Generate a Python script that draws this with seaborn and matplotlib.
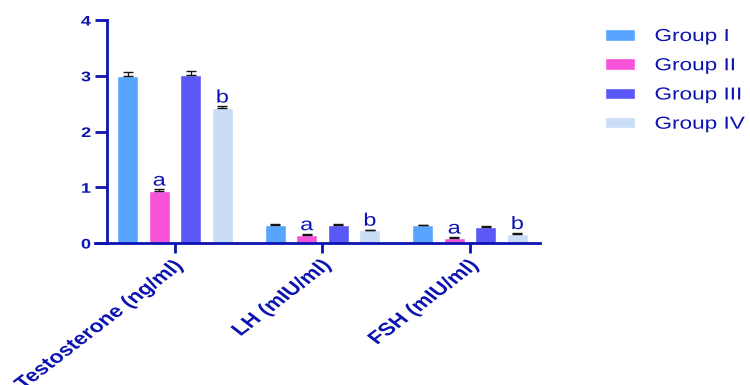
import matplotlib
matplotlib.use("Agg")
import matplotlib.pyplot as plt
from matplotlib.container import BarContainer
from matplotlib.patheffects import AbstractPathEffect
from matplotlib.transforms import Affine2D
import seaborn as sns
import pandas as pd

# Hormone means and SEM per group
hormones = ["Testosterone (ng/ml)", "LH (mIU/ml)", "FSH (mIU/ml)"]
groups = ["Group I", "Group II", "Group III", "Group IV"]
means_g1 = [3.00, 0.325, 0.32]
means_g2 = [0.93, 0.15, 0.09]
means_g3 = [3.02, 0.325, 0.29]
means_g4 = [2.42, 0.23, 0.17]
sem_g1 = [0.06, 0.01, 0.01]
sem_g2 = [0.03, 0.01, 0.01]
sem_g3 = [0.07, 0.01, 0.01]
sem_g4 = [0.03, 0.01, 0.01]
sig_letters = ["", "a", "", "b"]
y_ticks = [0, 1, 2, 3, 4]

palette = ["#58A4FF", "#F653D9", "#5A58F6", "#C9DDF6"]
navy = "#0B14B0"
STRETCH = 1.3


class WideText(AbstractPathEffect):
    """Widen glyphs horizontally around a chosen point of the string."""

    def __init__(self, sx=STRETCH, anchor="left"):
        super().__init__()
        self.sx = sx
        self.anchor = anchor

    def draw_path(self, renderer, gc, tpath, affine, rgbFace=None):
        v = tpath.vertices
        if len(v):
            xmin, xmax = v[:, 0].min(), v[:, 0].max()
        else:
            xmin = xmax = 0.0
        px = {"left": 0.0, "right": xmax, "center": (xmin + xmax) / 2}[self.anchor]
        ox, oy = affine.transform((px, 0.0))
        wide = affine + Affine2D().translate(-ox, -oy).scale(self.sx, 1.0).translate(ox, oy)
        renderer.draw_path(gc, tpath, wide, rgbFace)


means = [means_g1, means_g2, means_g3, means_g4]
sems = [sem_g1, sem_g2, sem_g3, sem_g4]
rows = []
for g, m, s in zip(groups, means, sems):
    for h, mv, sv in zip(hormones, m, s):
        rows.append({"Hormone": h, "Group": g, "Mean": mv, "SEM": sv})
df = pd.DataFrame(rows)

sns.set_theme(style="white")
plt.rcParams["font.family"] = ["Liberation Sans", "DejaVu Sans"]

fig = plt.figure(figsize=(7.5, 3.85), dpi=100)
ax = fig.add_axes([95 / 750, 1 - 243 / 385, 445 / 750, 223 / 385])

sns.barplot(data=df, x="Hormone", y="Mean", hue="Group", order=hormones,
            hue_order=groups, palette=palette, width=0.855, gap=0.33,
            errorbar=None, saturation=1, ax=ax, legend=True)

bar_sets = [c for c in ax.containers if isinstance(c, BarContainer)]

# one-sided SEM whiskers and significance letters over each bar
for gi, cont in enumerate(bar_sets):
    for hi, bar in enumerate(cont.patches):
        xc = bar.get_x() + bar.get_width() / 2
        top = bar.get_height()
        err = sems[gi][hi]
        ax.errorbar(xc, top, yerr=[[0], [err]], fmt="none", ecolor="#151515",
                    elinewidth=0.9, capsize=3.6, capthick=1.0, zorder=3)
        if sig_letters[gi]:
            ax.text(xc, top + err + 0.07, sig_letters[gi], ha="center",
                    va="baseline", color=navy, fontsize=13,
                    path_effects=[WideText(anchor="center")])

# axis styling first, so tick label properties set afterwards are kept
for side in ["top", "right"]:
    ax.spines[side].set_visible(False)
for side in ["left", "bottom"]:
    ax.spines[side].set_color(navy)
    ax.spines[side].set_linewidth(2.0)
ax.spines["left"].set_position(("axes", 12 / 445))
ax.tick_params(axis="y", colors=navy, length=8.6, width=2.0, direction="out",
               left=True, pad=3)
ax.tick_params(axis="x", colors=navy, length=7.2, width=2.0, direction="out",
               bottom=True, pad=3)

ax.set_xlim(-0.542, 2.475)
ax.set_ylim(0, 4)
ax.set_yticks(y_ticks)
ax.set_yticklabels([str(t) for t in y_ticks])
ax.set_xticks(range(len(hormones)))
ax.set_xticklabels(hormones, rotation=45, ha="right", rotation_mode="anchor")
for lab in ax.get_yticklabels():
    lab.set_fontweight("bold")
    lab.set_fontsize(10)
    lab.set_color(navy)
    lab.set_path_effects([WideText(anchor="right")])
for lab in ax.get_xticklabels():
    lab.set_fontweight("bold")
    lab.set_fontsize(12.8)
    lab.set_color(navy)
    lab.set_path_effects([WideText(anchor="right")])
ax.set_xlabel("")
ax.set_ylabel("")

handles, labels = ax.get_legend_handles_labels()
ax.legend_.remove()
leg = fig.legend(handles, labels, loc="upper left",
                 bbox_to_anchor=(605 / 750, 1 - 29 / 385),
                 frameon=False, fontsize=12.5, handlelength=1.75, handleheight=0.64,
                 labelspacing=0.82, handletextpad=1.1, borderpad=0,
                 borderaxespad=0)
for t in leg.get_texts():
    t.set_color(navy)
    t.set_path_effects([WideText(anchor="left")])

fig.savefig("out.png", dpi=100)
